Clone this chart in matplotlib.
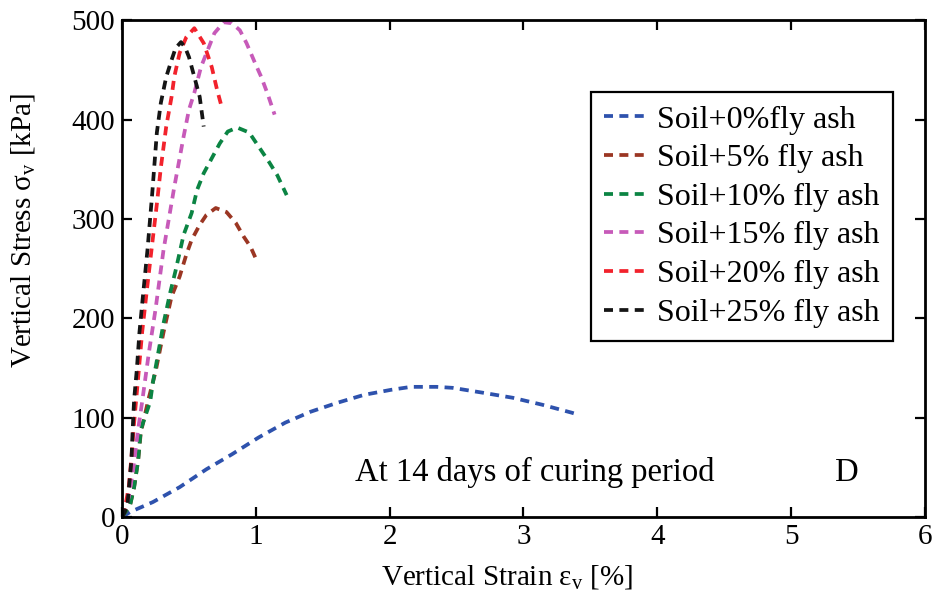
import matplotlib
matplotlib.use("Agg")
import matplotlib.pyplot as plt

plt.rcParams['font.family'] = ['Liberation Serif', 'DejaVu Serif']
plt.rcParams['mathtext.fontset'] = 'custom'
plt.rcParams['mathtext.rm'] = 'Liberation Serif'
plt.rcParams['mathtext.it'] = 'Liberation Serif:italic'

# Stress-strain curves at 14 days of curing
labels = ["Soil+0%fly ash", "Soil+5% fly ash", "Soil+10% fly ash",
          "Soil+15% fly ash", "Soil+20% fly ash", "Soil+25% fly ash"]
colors = ["#2e52ad", "#9b3623", "#0b8443", "#c75ab9", "#f2222c", "#151515"]

strain_0 = [0, 0.06, 0.23, 0.43, 0.63, 0.82, 1.02, 1.22, 1.41, 1.61, 1.81, 2.01,
            2.16, 2.35, 2.47, 2.70, 2.92, 3.14, 3.36, 3.41]
stress_0 = [0, 5, 15, 30, 48, 63, 80, 95, 106, 115, 123, 128,
            131, 131, 130, 125, 120, 113, 105, 103]

strain_5 = [0, 0.06, 0.09, 0.12, 0.14, 0.2, 0.25, 0.31, 0.37, 0.43, 0.48, 0.52,
            0.58, 0.63, 0.70, 0.78, 0.85, 0.91, 0.96, 1.01]
stress_5 = [0, 12, 30, 57, 85, 120, 146, 186, 222, 242, 264, 279,
            294, 304, 311, 307, 296, 282, 272, 257]

strain_10 = [0, 0.06, 0.09, 0.12, 0.14, 0.21, 0.23, 0.31, 0.36, 0.40, 0.46, 0.52,
             0.56, 0.61, 0.67, 0.73, 0.79, 0.86, 0.95, 1.02, 1.10, 1.16, 1.23]
stress_10 = [0, 12, 30, 57, 88, 116, 135, 195, 226, 248, 284, 306,
             329, 346, 361, 376, 388, 392, 387, 373, 357, 344, 324]

strain_15 = [0, 0.05, 0.08, 0.12, 0.15, 0.2, 0.25, 0.31, 0.39, 0.46, 0.50, 0.54,
             0.59, 0.64, 0.69, 0.76, 0.82, 0.88, 0.93, 1.0, 1.04, 1.09, 1.14]
stress_15 = [0, 20, 45, 88, 116, 165, 209, 269, 332, 383, 410, 427,
             453, 470, 487, 498, 497, 490, 477, 455, 443, 425, 405]

strain_20 = [0, 0.02, 0.05, 0.07, 0.09, 0.12, 0.15, 0.185, 0.22, 0.26, 0.29, 0.33,
             0.37, 0.39, 0.43, 0.48, 0.54, 0.61, 0.67, 0.71, 0.75]
stress_20 = [0, 8, 30, 60, 95, 140, 186, 228, 269, 315, 352, 393,
             423, 443, 467, 483, 492, 477, 453, 430, 410]

strain_25 = [0, 0.02, 0.04, 0.05, 0.07, 0.08, 0.09, 0.11, 0.13, 0.16, 0.19, 0.225,
             0.26, 0.29, 0.33, 0.37, 0.40, 0.44, 0.47, 0.50, 0.54, 0.58, 0.61]
stress_25 = [0, 5, 12, 27, 57, 90, 118, 148, 186, 228, 269, 325,
             387, 417, 443, 460, 472, 478, 473, 463, 443, 423, 393]

series = [(strain_0, stress_0), (strain_5, stress_5), (strain_10, stress_10),
          (strain_15, stress_15), (strain_20, stress_20), (strain_25, stress_25)]

x_ticks = [0, 1, 2, 3, 4, 5, 6]
y_ticks = [0, 100, 200, 300, 400, 500]

fig = plt.figure(figsize=(9.39, 6.14), dpi=100)
ax = fig.add_axes([0.130, 0.158, 0.855, 0.809])

for (x, y), c, lab in zip(series, colors, labels):
    ax.plot(x, y, color=c, lw=2.7, dashes=(2.4, 1.7), label=lab,
            dash_capstyle='butt', dash_joinstyle='round')

ax.set_xlim(0, 6)
ax.set_ylim(0, 500)
ax.set_xticks(x_ticks)
ax.set_yticks(y_ticks)
ax.tick_params(direction='in', length=7, width=1.6, top=True, right=True,
               labelsize=21, pad=5)
for sp in ax.spines.values():
    sp.set_linewidth(2.0)

ax.set_xlabel("Vertical Strain ε$_{\\rm v}$ [%]", fontsize=21)
ax.set_ylabel("Vertical Stress σ$_{\\rm v}$ [kPa]", fontsize=21)
ax.xaxis.set_label_coords(0.479, -0.092)
ax.yaxis.set_label_coords(-0.106, 0.576)

ax.text(1.74, 45, "At 14 days of curing period", fontsize=23.5, va='center', ha='left')
ax.text(5.33, 45, "D", fontsize=23.5, va='center', ha='left')

leg = ax.legend(loc='upper right', bbox_to_anchor=(0.960, 0.856),
                prop={'family': 'Liberation Serif', 'size': 23},
                handlelength=1.45, handletextpad=0.2, labelspacing=0.29,
                borderpad=0.42, borderaxespad=0, fancybox=False, framealpha=1)
leg.get_frame().set_edgecolor('black')
leg.get_frame().set_linewidth(1.6)

fig.savefig("out.png", dpi=100)
